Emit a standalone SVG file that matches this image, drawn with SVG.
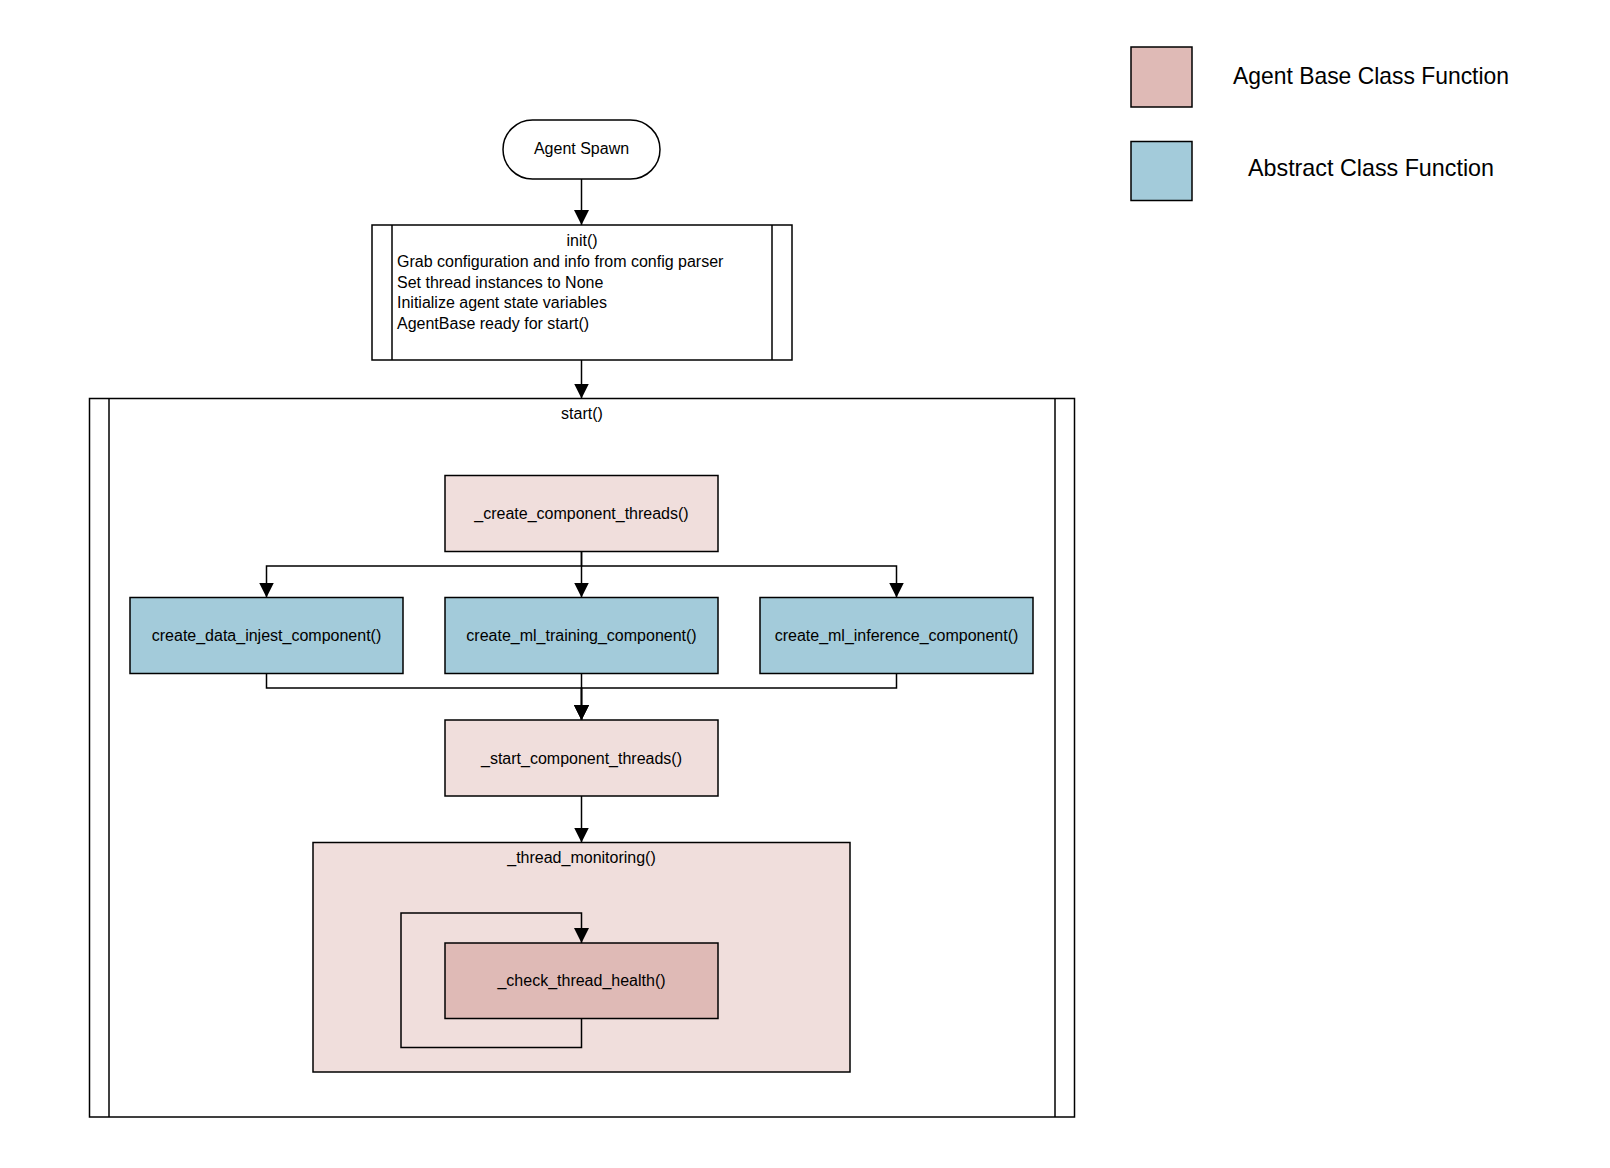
<svg xmlns="http://www.w3.org/2000/svg" width="1610" height="1168" viewBox="0 0 1610 1168">
<style>
  text { font-family: "Liberation Sans", Arial, sans-serif; fill: #000; }
  .lbl { font-size: 16px; text-anchor: middle; dominant-baseline: central; }
  .ln { font-size: 16px; }
  .leg { font-size: 24px; text-anchor: middle; dominant-baseline: central; }
  .box { stroke: #000; stroke-width: 1.5; }
  .base { fill: #F0DEDC; }
  .baseDark { fill: #DFBAB6; }
  .abs { fill: #A3CBDA; }
  .plain { fill: #FFFFFF; }
  .edge { fill: none; stroke: #000; stroke-width: 1.5; }
</style>
<defs>
  <marker id="arrow" viewBox="0 0 15 15" refX="15" refY="7.5" markerWidth="15" markerHeight="15" markerUnits="userSpaceOnUse" orient="auto">
    <path d="M0,0 L15,7.5 L0,15 Z" fill="#000"/>
  </marker>
</defs>
<rect width="1610" height="1168" fill="#FFFFFF"/>

<g id="legend">
  <g id="legend-agent-base">
    <rect class="box baseDark" x="1131" y="47" width="61" height="60"/>
    <text class="leg" x="1371" y="75" textLength="276" lengthAdjust="spacingAndGlyphs">Agent Base Class Function</text>
  </g>
  <g id="legend-abstract">
    <rect class="box abs" x="1131" y="141.5" width="61" height="59"/>
    <text class="leg" x="1371" y="167" textLength="246" lengthAdjust="spacingAndGlyphs">Abstract Class Function</text>
  </g>
</g>

<g id="start">
  <rect class="box plain" x="89.5" y="398.5" width="985" height="718.5"/>
  <line class="box" x1="109" y1="398.5" x2="109" y2="1117"/>
  <line class="box" x1="1055" y1="398.5" x2="1055" y2="1117"/>
  <text class="lbl" x="582" y="413">start()</text>
</g>

<g id="agent-spawn">
  <rect class="box plain" x="503" y="120" width="157" height="59" rx="29.5" ry="29.5"/>
  <text class="lbl" x="581.5" y="148.5">Agent Spawn</text>
</g>

<g id="init">
  <rect class="box plain" x="372" y="225" width="420" height="135"/>
  <line class="box" x1="392" y1="225" x2="392" y2="360"/>
  <line class="box" x1="772" y1="225" x2="772" y2="360"/>
  <text class="ln" x="582" y="246" text-anchor="middle">init()</text>
  <text class="ln" x="397" y="267">Grab configuration and info from config parser</text>
  <text class="ln" x="397" y="287.7">Set thread instances to None</text>
  <text class="ln" x="397" y="308.4">Initialize agent state variables</text>
  <text class="ln" x="397" y="329">AgentBase ready for start()</text>
</g>

<g id="create-component-threads">
  <rect class="box base" x="445" y="475.5" width="273" height="76"/>
  <text class="lbl" x="581.5" y="513">_create_component_threads()</text>
</g>

<g id="create-data-injest">
  <rect class="box abs" x="130" y="597.5" width="273" height="76"/>
  <text class="lbl" x="266.5" y="635.5">create_data_injest_component()</text>
</g>

<g id="create-ml-training">
  <rect class="box abs" x="445" y="597.5" width="273" height="76"/>
  <text class="lbl" x="581.5" y="635.5">create_ml_training_component()</text>
</g>

<g id="create-ml-inference">
  <rect class="box abs" x="760" y="597.5" width="273" height="76"/>
  <text class="lbl" x="896.5" y="635.5">create_ml_inference_component()</text>
</g>

<g id="start-component-threads">
  <rect class="box base" x="445" y="720" width="273" height="76"/>
  <text class="lbl" x="581.5" y="758">_start_component_threads()</text>
</g>

<g id="thread-monitoring">
  <rect class="box base" x="313" y="842.5" width="537" height="229.5"/>
  <text class="lbl" x="581.5" y="857">_thread_monitoring()</text>
</g>

<g id="check-thread-health">
  <rect class="box baseDark" x="445" y="943" width="273" height="75.5"/>
  <text class="lbl" x="581.5" y="980.5">_check_thread_health()</text>
</g>

<g id="connectors">
  <path class="edge" d="M581.5,179 V225" marker-end="url(#arrow)"/>
  <path class="edge" d="M581.5,360 V398.5" marker-end="url(#arrow)"/>
  <path class="edge" d="M581.5,551.5 V566 H266.5 V597.5" marker-end="url(#arrow)"/>
  <path class="edge" d="M581.5,551.5 V597.5" marker-end="url(#arrow)"/>
  <path class="edge" d="M581.5,566 H896.5 V597.5" marker-end="url(#arrow)"/>
  <path class="edge" d="M266.5,673.5 V688 H581.5 V720" marker-end="url(#arrow)"/>
  <path class="edge" d="M581.5,673.5 V720" marker-end="url(#arrow)"/>
  <path class="edge" d="M896.5,673.5 V688 H581.5 V720" marker-end="url(#arrow)"/>
  <path class="edge" d="M581.5,796 V842.5" marker-end="url(#arrow)"/>
  <path class="edge" d="M581.5,1018.5 V1047.5 H401 V913 H581.5 V943" marker-end="url(#arrow)"/>
</g>
</svg>
